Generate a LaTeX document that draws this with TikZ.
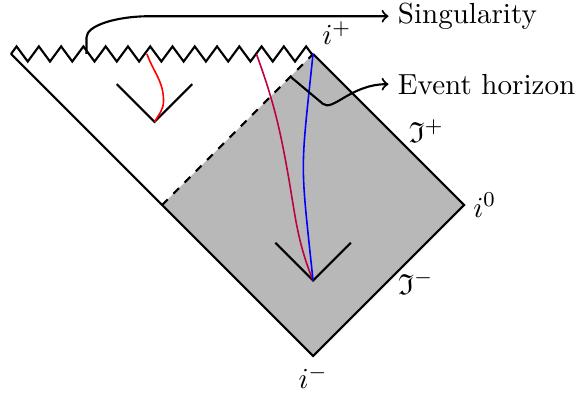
\documentclass[tikz,border=0pt]{standalone}
\usepackage{amsmath,amssymb}
\usepackage{xcolor}
\usepackage{tikz}
\usetikzlibrary{decorations.pathmorphing}
\definecolor{extgray}{RGB}{184,184,184}

\begin{document}
\begin{tikzpicture}[x=1cm,y=1cm,every node/.style={font=\fontsize{10.95}{13.6}\selectfont},
edge/.style={thick},
horizon/.style={thick,dashed},
singular/.style={thick,decorate,decoration={zigzag,segment length=0.295cm,amplitude=0.1cm}},
wline/.style={semithick},
pointer/.style={->,thick}]
\useasboundingbox (-4.146,-2.556) rectangle (3.483,2.715);
\coordinate (ip) at (0,2);
\coordinate (iz) at (2,0);
\coordinate (im) at (0,-2);
\coordinate (hl) at (-2,0);
\coordinate (sl) at (-4,2);
\coordinate (apexA) at (-2.1,1.1);
\coordinate (apexB) at (0,-1);
\coordinate (redtop) at (-2.2,2);
\coordinate (purptop) at (-0.75,2);
\coordinate (singfoot) at (-3,2);
\coordinate (ehfoot) at (-0.3,1.7);
\fill[extgray] (ip) -- (iz) -- (im) -- (hl) -- cycle;
\draw[edge] (sl) -- (im) -- (iz) -- (ip);
\draw[horizon] (hl) -- (ip);
\draw[singular] (sl) -- (ip);
\draw[edge] (apexA) ++(-0.5,0.5) -- (apexA) -- ++(0.5,0.5);
\draw[edge] (apexB) ++(-0.5,0.5) -- (apexB) -- ++(0.5,0.5);
\draw[wline,red] (apexA) to[out=60,in=-90] (-1.98,1.38) to[out=90,in=-70] (redtop);
\draw[wline,purple] (apexB) to[out=112,in=-80] (-0.33,0.4) to[out=100,in=-70] (purptop);
\draw[wline,blue] (apexB) to[out=96,in=-96,looseness=1.4] (ip);
\node[above right] (iplus) at (ip) {$i^+$};
\node[right] (izero) at (iz) {$i^0$};
\node[below] (iminus) at (im) {$i^-$};
\node (scriplus) at (1.5,0.98) {$\mathfrak{I}^+$};
\node (scriminus) at (1.36,-1.03) {$\mathfrak{I}^-$};
\node[right] (sing) at (1,2.5) {Singularity};
\node[right] (evh) at (1,1.6) {Event horizon};
\draw[pointer] (singfoot) -- ++(0,0.22) to[out=90,in=180,out looseness=0.45,in looseness=1.3] ++(0.84,0.28) -- (sing.west);
\draw[pointer] (ehfoot) -- ++(0.43,-0.36) .. controls +(0.13,-0.11) and +(-0.5,0) .. (evh.west);
\end{tikzpicture}
\end{document}
